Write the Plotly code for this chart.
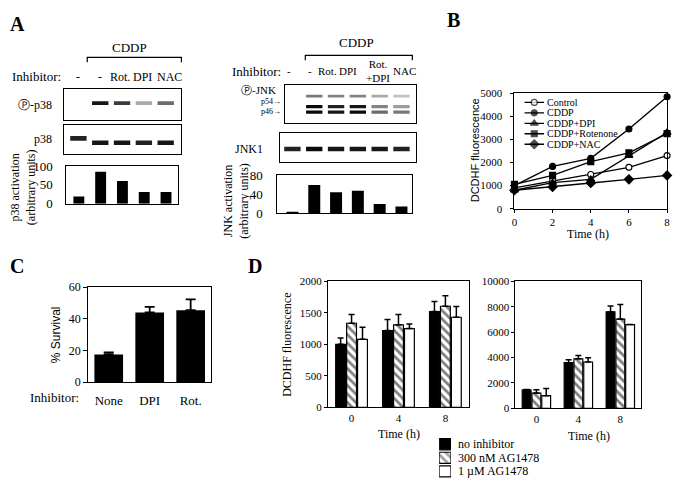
import plotly.graph_objects as go

W, H = 679, 491
SERIF = "Liberation Serif"
SANS = "Liberation Sans"

# ---------------- data ----------------
p38_lanes = ["-", "-", "Rot.", "DPI", "NAC"]
p38_phospho_band = [0.0, 0.95, 0.8, 0.35, 0.6]
p38_total_band = [0.9, 0.95, 0.95, 0.9, 0.95]
p38_activation = [19, 85, 60, 31, 31]
p38_ticks = [0, 50, 100]

jnk_lanes = ["-", "-", "Rot.", "DPI", "Rot.<br>+DPI", "NAC"]
pjnk_upper_band = [0.0, 0.55, 0.5, 0.5, 0.35, 0.25]
pjnk_p54_band = [0.0, 1.0, 0.9, 0.95, 0.5, 0.4]
pjnk_p46_band = [0.0, 1.0, 0.95, 1.0, 0.6, 0.55]
jnk1_band = [0.9, 1.0, 0.95, 0.95, 0.95, 0.9]
jnk_activation = [3, 60, 45, 48, 20, 15]
jnk_ticks = [0, 40, 80]

b_time = [0, 2, 4, 6, 8]
b_names = ["Control", "CDDP", "CDDP+DPI", "CDDP+Rotenone", "CDDP+NAC"]
b_control = [900, 1200, 1480, 1790, 2300]
b_cddp = [1000, 1830, 2180, 3450, 4850]
b_cddp_dpi = [800, 1130, 1270, 2300, 3300]
b_cddp_rot = [1050, 1440, 2040, 2420, 3250]
b_cddp_nac = [800, 940, 1110, 1270, 1440]

c_cats = ["None", "DPI", "Rot."]
c_survival = [17.5, 44.0, 45.5]
c_err = [1.3, 3.5, 6.8]

d_times = ["0", "4", "8"]
d_names = ["no inhibitor", "300 nM AG1478", "1 \u00b5M AG1478"]
d1_none = [1000, 1220, 1520]
d1_none_err = [100, 175, 160]
d1_300 = [1335, 1310, 1605]
d1_300_err = [140, 165, 165]
d1_1um = [1080, 1250, 1430]
d1_1um_err = [190, 75, 170]
d2_none = [1450, 3600, 7600]
d2_none_err = [40, 220, 450]
d2_300 = [1200, 3900, 7030]
d2_300_err = [260, 260, 1140]
d2_1um = [1000, 3650, 6600]
d2_1um_err = [570, 330, 0]

# ---------------- helpers ----------------
fig = go.Figure()
axes = {}
annotations = []
shapes = []


def axis_pair(n, box, xr, yr, xkw=None, ykw=None):
    x0, y0, x1, y1 = box
    s = "" if n == 1 else str(n)
    base = dict(showgrid=False, zeroline=False, showline=True, mirror=True,
                linecolor="black", linewidth=1.2, fixedrange=True,
                tickfont=dict(family=SERIF, size=11, color="black"),
                tickcolor="black")
    xa = dict(base, domain=[x0 / W, x1 / W], anchor="y" + s, range=xr)
    ya = dict(base, domain=[1 - y1 / H, 1 - y0 / H], anchor="x" + s, range=yr)
    xa.update(xkw or {})
    ya.update(ykw or {})
    axes["xaxis" + s] = xa
    axes["yaxis" + s] = ya
    return "x" + s, "y" + s


def txt(text, x, y, size=12, xanchor="center", family=SERIF, angle=0):
    annotations.append(dict(text=text, x=x / W, y=1 - y / H, xref="paper", yref="paper",
                            xanchor=xanchor, yanchor="middle", showarrow=False,
                            textangle=angle, borderpad=0,
                            font=dict(family=family, size=size, color="black")))


def bracket(x0, x1, y, drop=5):
    shapes.append(dict(type="path", xref="paper", yref="paper",
                       path=f"M {x0/W} {1-(y+drop)/H} L {x0/W} {1-y/H} L {x1/W} {1-y/H} L {x1/W} {1-(y+drop)/H}",
                       line=dict(color="black", width=1.2)))


def shade(v):
    g = int(round(255 - v * 245))
    return f"rgb({g},{g},{g})"


def band(xa, ya, intens, center, h, width=0.75, group="b"):
    n = len(intens)
    cen = center if isinstance(center, list) else [center] * n
    fig.add_trace(go.Bar(x=list(range(n)), y=[h] * n, base=[c - h / 2 for c in cen],
                         width=width, offsetgroup=group,
                         marker=dict(color=[shade(v) for v in intens], line=dict(width=0)),
                         xaxis=xa, yaxis=ya, showlegend=False, hoverinfo="skip"))


blot_kw = dict(showticklabels=False, ticks="")

# ---------------- panel A (p38) ----------------
xa1, ya1 = axis_pair(1, (62, 85, 180, 117), [-0.64, 4.72], [0, 1], blot_kw, blot_kw)
band(xa1, ya1, p38_phospho_band, 0.56, 0.12)
xa2, ya2 = axis_pair(2, (62, 122, 180, 152), [-0.64, 4.72], [0, 1], blot_kw, blot_kw)
band(xa2, ya2, p38_total_band, [0.55, 0.4, 0.4, 0.4, 0.4], 0.16)
xa3, ya3 = axis_pair(3, (64, 164, 177, 203), [-0.57, 4.57], [0, 100], blot_kw,
                     dict(tickvals=p38_ticks, ticks="", ticklabelstandoff=10,
                          tickfont=dict(family=SERIF, size=13, color="black")))
fig.add_trace(go.Bar(x=list(range(len(p38_activation))), y=p38_activation, width=0.5,
                     marker=dict(color="black", line=dict(width=0)),
                     xaxis=xa3, yaxis=ya3, showlegend=False))

txt("<b>A</b>", 15, 18, 20)
txt("CDDP", 128, 42, 13)
bracket(85, 180, 52)
txt("Inhibitor:", 8, 72, 13, xanchor="left")
p38_label_x = [76, 98, 118, 141, 168]
for lx, lab in zip(p38_label_x, p38_lanes):
    txt(lab, lx, 72, 12)
txt("\u24c5-p38", 50, 101, 12, xanchor="right")
txt("p38", 50, 136, 12, xanchor="right")
txt("p38 activation<br>(arbitrary units)", 21, 186, 12, angle=-90)

# ---------------- panel A (JNK) ----------------
xa4, ya4 = axis_pair(4, (285, 80, 417, 120), [-0.32, 5.68], [0, 1], blot_kw, blot_kw)
band(xa4, ya4, pjnk_upper_band, 0.70, 0.07)
band(xa4, ya4, pjnk_p54_band, 0.43, 0.08)
band(xa4, ya4, pjnk_p46_band, 0.29, 0.08)
xa5, ya5 = axis_pair(5, (279, 130, 417, 160), [-0.59, 5.68], [0, 1], blot_kw, blot_kw)
band(xa5, ya5, jnk1_band, 0.45, 0.16)
xa6, ya6 = axis_pair(6, (276, 173, 413, 213), [-0.73, 5.5], [0, 82], blot_kw,
                     dict(tickvals=jnk_ticks, ticks="", ticklabelstandoff=10,
                          tickfont=dict(family=SERIF, size=13, color="black")))
fig.add_trace(go.Bar(x=list(range(len(jnk_activation))), y=jnk_activation, width=0.55,
                     marker=dict(color="black", line=dict(width=0)),
                     xaxis=xa6, yaxis=ya6, showlegend=False))

txt("CDDP", 357, 37, 13)
bracket(305, 413, 50)
txt("Inhibitor:", 230, 67, 13, xanchor="left")
jnk_label_x = [289, 310, 327, 348, 378, 405]
for lx, lab in zip(jnk_label_x, jnk_lanes):
    txt(lab, lx, 66, 11)
txt("\u24c5-JNK", 276, 86, 11, xanchor="right")
txt("p54\u2192", 281, 97, 8, xanchor="right")
txt("p46\u2192", 281, 108, 8, xanchor="right")
txt("JNK1", 263, 146, 12, xanchor="right")
txt("JNK activation<br>(arbitrary units)", 235, 200, 12, angle=-90)

# ---------------- panel B ----------------
xa7, ya7 = axis_pair(7, (516, 89, 670, 208), [0, 8], [0, 5000],
                     dict(tickvals=b_time, ticks="outside", ticklen=3),
                     dict(dtick=1000, ticks="outside", ticklen=3, ticklabelstandoff=6))
b_series = [b_control, b_cddp, b_cddp_dpi, b_cddp_rot, b_cddp_nac]
b_symbols = ["circle", "circle", "triangle-up", "square", "diamond"]
b_fill = ["white", "black", "black", "black", "black"]
b_size = [6, 6, 7, 6, 7]
for name, vals, sym, fc, sz in zip(b_names, b_series, b_symbols, b_fill, b_size):
    fig.add_trace(go.Scatter(x=b_time, y=vals, mode="lines+markers", name=name,
                             line=dict(color="black", width=1.4),
                             marker=dict(symbol=sym, size=sz, color=fc,
                                         line=dict(color="black", width=1.1)),
                             cliponaxis=False, xaxis=xa7, yaxis=ya7, showlegend=False))
# manual in-plot legend
LEG_TOP, LEG_ROW = 93, 10.8
xa8, ya8 = axis_pair(8, (526, LEG_TOP, 546, LEG_TOP + LEG_ROW * len(b_names)),
                     [0, 1], [len(b_names), 0],
                     dict(visible=False), dict(visible=False))
for i, (name, sym, fc, sz) in enumerate(zip(b_names, b_symbols, b_fill, b_size)):
    fig.add_trace(go.Scatter(x=[0, 0.5, 1], y=[i + 0.5] * 3, mode="lines+markers",
                             line=dict(color="black", width=1.4),
                             marker=dict(symbol=sym, size=[0, sz, 0], color=fc,
                                         line=dict(color="black", width=1.1)),
                             cliponaxis=False, xaxis=xa8, yaxis=ya8, showlegend=False,
                             hoverinfo="skip"))
    txt(name, 548, LEG_TOP + LEG_ROW * (i + 0.5), 10, xanchor="left")

txt("<b>B</b>", 455, 13, 20)
txt("DCDHF fluorescence", 477, 148, 11, family=SANS, angle=-90)
txt("Time (h)", 590, 234, 12)

# ---------------- panel C ----------------
xa9, ya9 = axis_pair(9, (86, 289, 210, 387), [-0.5, 2.5], [0, 60],
                     dict(type="category", ticks="", ticklabelstandoff=6,
                          tickfont=dict(family=SERIF, size=13, color="black")),
                     dict(tickvals=[0, 20, 40, 60], ticks="outside", ticklen=4,
                          tickfont=dict(family=SERIF, size=12, color="black")))
fig.add_trace(go.Bar(x=c_cats, y=c_survival, width=0.7,
                     marker=dict(color="black", line=dict(width=0)),
                     error_y=dict(type="data", array=c_err, arrayminus=[0] * 3,
                                  symmetric=False, color="black", thickness=1.8, width=5),
                     xaxis=xa9, yaxis=ya9, showlegend=False))
txt("<b>C</b>", 14, 267, 20)
txt("% Survival", 53, 338, 12, family=SANS, angle=-90)
txt("Inhibitor:", 26, 403, 13, xanchor="left")

# ---------------- panel D ----------------
d_styles = [
    dict(color="black", line=dict(color="black", width=1.2)),
    dict(color="white", line=dict(color="black", width=1.2),
         pattern=dict(shape="\\", fgcolor="black", bgcolor="white", size=6, solidity=0.45)),
    dict(color="white", line=dict(color="black", width=1.2)),
]
xa10, ya10 = axis_pair(10, (328, 283, 470, 413), [-0.5, 2.5], [0, 2000],
                       dict(type="category", ticks=""),
                       dict(dtick=500, ticks="outside", ticklen=3, tickformat="d"))
xa11, ya11 = axis_pair(11, (517, 283, 644, 414), [-0.5, 2.5], [0, 10000],
                       dict(type="category", ticks=""),
                       dict(dtick=2000, ticks="outside", ticklen=3, tickformat="d"))
d_left = [(d1_none, d1_none_err), (d1_300, d1_300_err), (d1_1um, d1_1um_err)]
d_right = [(d2_none, d2_none_err), (d2_300, d2_300_err), (d2_1um, d2_1um_err)]
for (xa, ya, sets) in [(xa10, ya10, d_left), (xa11, ya11, d_right)]:
    for name, (vals, err), st in zip(d_names, sets, d_styles):
        fig.add_trace(go.Bar(x=d_times, y=vals, name=name, marker=st,
                             error_y=dict(type="data", array=err, arrayminus=[0] * 3,
                                          symmetric=False, color="black", thickness=1.5,
                                          width=3),
                             xaxis=xa, yaxis=ya, showlegend=False))
# manual legend
xa12, ya12 = axis_pair(12, (440, 444, 452, 486), [0, 1], [len(d_names), 0],
                       dict(visible=False), dict(visible=False))
fig.add_trace(go.Bar(y=[0.5, 1.5, 2.5], x=[1, 1, 1], base=[0, 0, 0], orientation="h",
                     width=0.82, offsetgroup="leg",
                     marker=dict(color=["black", "white", "white"],
                                 line=dict(color="black", width=1.2),
                                 pattern=dict(shape=["", "\\", ""], fgcolor="black",
                                              bgcolor="white", size=6, solidity=0.45)),
                     xaxis=xa12, yaxis=ya12, showlegend=False, hoverinfo="skip"))
for i, name in enumerate(d_names):
    txt(name, 458, 451 + 14 * i, 12, xanchor="left")

txt("<b>D</b>", 254, 267, 20)
txt("DCDHF fluorescence", 287, 348, 12, angle=-90)
txt("Time (h)", 400, 440, 12)
txt("Time (h)", 591, 443, 12)

fig.update_layout(width=W, height=H, autosize=False,
                  margin=dict(l=0, r=0, t=0, b=0),
                  paper_bgcolor="white", plot_bgcolor="white",
                  barmode="group", bargap=0.3, bargroupgap=0.1,
                  showlegend=False, annotations=annotations, shapes=shapes,
                  font=dict(family=SERIF, color="black"), **axes)

fig.write_html("out.html", config={"displayModeBar": False},
               post_script="document.body.style.margin='0px';")
